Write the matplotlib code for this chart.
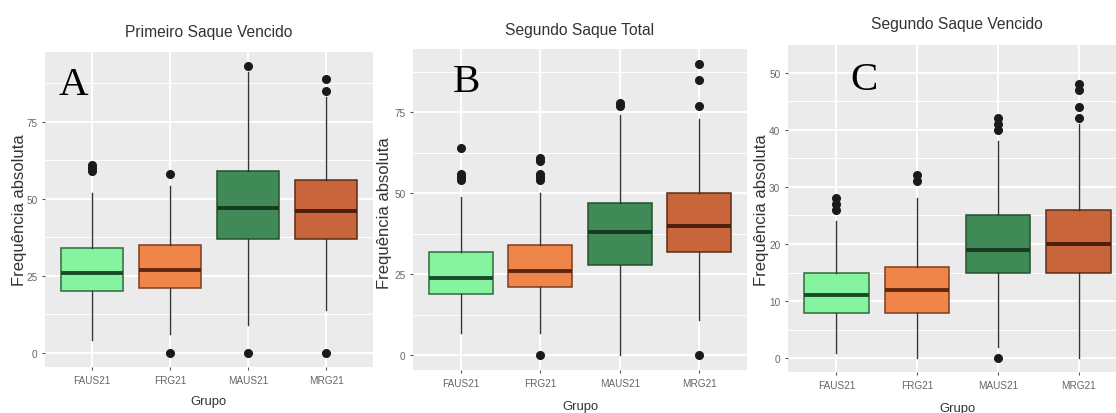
import matplotlib
matplotlib.use('Agg')
import matplotlib.pyplot as plt
from matplotlib import font_manager

# grupos e estatisticas
grupos = ['FAUS21', 'FRG21', 'MAUS21', 'MRG21']
cores = ['#86F3A0', '#F0854A', '#3F8A57', '#C9653A']
bordas = ['#2F6B3E', '#7A3E1F', '#24502F', '#5E2C15']
medianas = ['#1B4A24', '#5E2710', '#183A22', '#4A1E0C']

# A - Primeiro Saque Vencido
a_q1 = [20, 21, 37, 37]
a_med = [26, 27, 47, 46]
a_q3 = [34, 35, 59, 56]
a_wlo = [4, 6, 9, 14]
a_whi = [52, 54, 91, 83]
a_out = [[59, 60, 61], [0, 58], [0, 93], [0, 85, 89]]

# B - Segundo Saque Total
b_q1 = [19, 21, 28, 32]
b_med = [24, 26, 38, 40]
b_q3 = [32, 34, 47, 50]
b_wlo = [7, 7, 0, 11]
b_whi = [49, 50, 74, 73]
b_out = [[54, 55, 56, 64], [0, 54, 55, 56, 60, 61], [77, 78], [0, 77, 85, 90]]

# C - Segundo Saque Vencido
c_q1 = [8, 8, 15, 15]
c_med = [11, 12, 19, 20]
c_q3 = [15, 16, 25, 26]
c_wlo = [1, 0, 2, 0]
c_whi = [24, 28, 38, 41]
c_out = [[26, 27, 28], [31, 32], [0, 40, 41, 42], [42, 44, 47, 48]]

titulos = ['Primeiro Saque Vencido', 'Segundo Saque Total', 'Segundo Saque Vencido']
letras = ['A', 'B', 'C']

nomes = {f.name for f in font_manager.fontManager.ttflist}
if 'Liberation Sans Narrow' in nomes:
    fonte, esc = 'Liberation Sans Narrow', 1.0
else:
    fonte, esc = 'Liberation Sans', 0.85

W, H = 1116, 414
fig = plt.figure(figsize=(W / 100, H / 100), dpi=100)


def px(x, y):
    return x / W, 1 - y / H


def caixa(rect, q1, med, q3, wlo, whi, out, ylim, yticks):
    ax = fig.add_axes(rect)
    ax.set_facecolor('#EBEBEB')
    stats = []
    for i in range(4):
        stats.append(dict(q1=q1[i], med=med[i], q3=q3[i], whislo=wlo[i],
                          whishi=whi[i], fliers=out[i]))
    bp = ax.bxp(stats, positions=[1, 2, 3, 4], widths=0.8, patch_artist=True,
                showcaps=False,
                whiskerprops=dict(color='#333333', lw=1.0),
                flierprops=dict(marker='o', markerfacecolor='#1a1a1a',
                                markeredgecolor='#1a1a1a', markersize=5.5))
    for i, b in enumerate(bp['boxes']):
        b.set_facecolor(cores[i])
        b.set_edgecolor(bordas[i])
        b.set_linewidth(1.1)
        bp['medians'][i].set_color(medianas[i])
        bp['medians'][i].set_linewidth(2.8)
    ax.set_xlim(0.4, 4.6)
    ax.set_ylim(*ylim)
    ax.set_yticks(yticks)
    passo = yticks[1] - yticks[0]
    ax.set_yticks([t + passo / 2 for t in yticks[:-1]] + [yticks[-1] + passo / 2], minor=True)
    ax.set_xticks([1, 2, 3, 4])
    ax.set_xticklabels(grupos)
    ax.grid(True, which='major', color='white', lw=1.4)
    ax.grid(True, which='minor', axis='y', color='white', lw=0.7)
    ax.set_axisbelow(True)
    for s in ax.spines.values():
        s.set_visible(False)
    ax.tick_params(which='major', length=2.5, width=0.8, color='#555555',
                   labelcolor='#666666', labelsize=8.5 * esc, pad=3)
    ax.tick_params(which='minor', length=0)
    for t in ax.get_xticklabels() + ax.get_yticklabels():
        t.set_fontfamily(fonte)
    return ax


axA = caixa([45 / W, 1 - 368 / H, 328 / W, 315 / H], a_q1, a_med, a_q3, a_wlo, a_whi, a_out,
            (-4.65, 97.65), [0, 25, 50, 75])
axB = caixa([413 / W, 1 - 371 / H, 334 / W, 321 / H], b_q1, b_med, b_q3, b_wlo, b_whi, b_out,
            (-4.5, 94.5), [0, 25, 50, 75])
axC = caixa([788 / W, 1 - 373 / H, 339 / W, 328 / H], c_q1, c_med, c_q3, c_wlo, c_whi, c_out,
            (-2.4, 50.4), [0, 10, 20, 30, 40, 50])

# titulos
for (x, y), t in zip([(209, 33), (580, 30), (957, 25)], titulos):
    fig.text(*px(x, y), t, ha='center', va='center', fontsize=13.2 * esc,
             color='#333333', family=fonte)

# rotulo y
for (x, y) in [(20, 210), (385, 213), (762, 210)]:
    fig.text(*px(x, y), 'Frequência absoluta', ha='center', va='center',
             rotation=90, fontsize=12, color='#333333', family='Liberation Sans')

# rotulo x
for (x, y) in [(208, 402), (580, 407), (957, 409)]:
    fig.text(*px(x, y), 'Grupo', ha='center', va='center', fontsize=11 * esc,
             color='#333333', family=fonte)

# letras dos paineis
for (x, y), l in zip([(59, 95), (453, 92), (850, 90)], letras):
    fig.text(*px(x, y), l, ha='left', va='baseline', fontsize=29.5,
             color='black', family='Liberation Serif')

fig.savefig('out.png', dpi=100)
